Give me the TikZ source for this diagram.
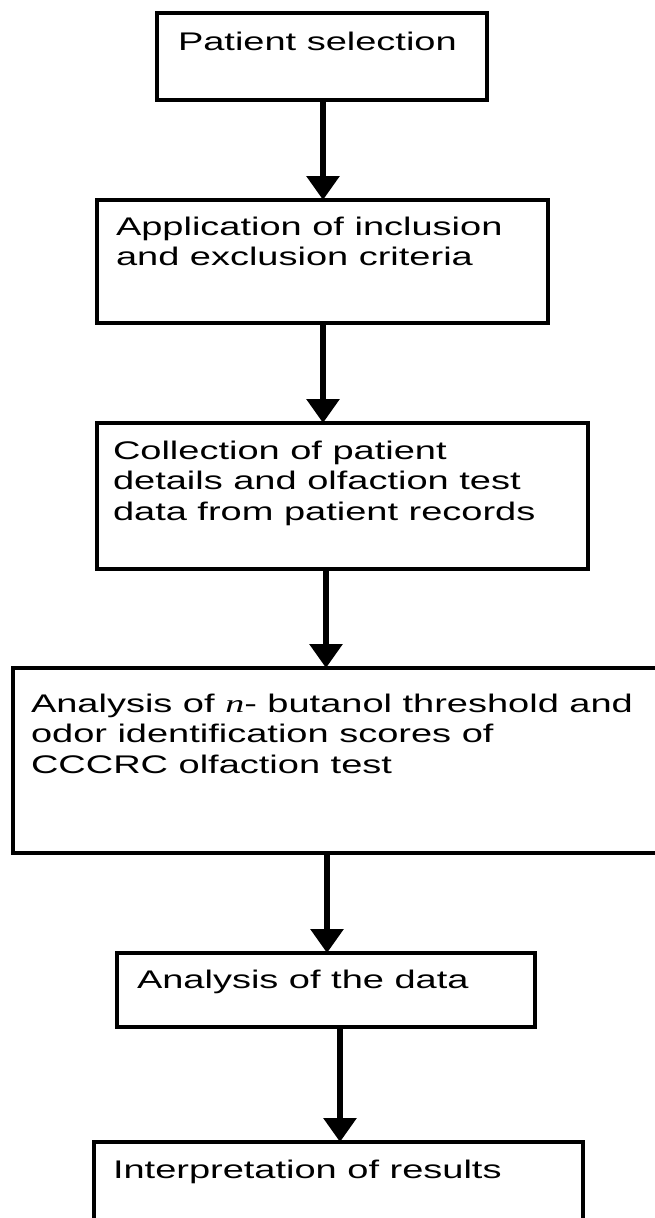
\documentclass[tikz,border=0pt]{standalone}
\usepackage{fontspec}
\setmainfont[FakeStretch=1.49]{Liberation Sans}
\newfontfamily\serifit[FakeStretch=1.49]{Liberation Serif}
\usetikzlibrary{arrows.meta}
\begin{document}
\begin{tikzpicture}[x=1pt,y=-1pt,
  stepbox/.style={draw=black, line width=3.5pt, inner sep=0pt, outer sep=0pt, anchor=north west, fill=none},
  txt/.style={inner sep=0pt, outer sep=0pt, anchor=base west, align=left, font=\fontsize{25.5}{30.5}\selectfont},
  arr/.style={line width=6pt, -{Triangle[width=32pt,length=24pt]}, shorten >=0pt}
]
\useasboundingbox[fill=white] (0,0) rectangle (654,1218);

\node[stepbox, minimum width=330pt, minimum height=87pt] (b1) at (157,13) {};
\node[stepbox, minimum width=451pt, minimum height=123pt] (b2) at (97,200) {};
\node[stepbox, minimum width=491pt, minimum height=146pt] (b3) at (97,423) {};
\node[stepbox, minimum width=646pt, minimum height=185pt] (b4) at (13,668) {};
\node[stepbox, minimum width=418pt, minimum height=74pt] (b5) at (117,953) {};
\node[stepbox, minimum width=489pt, minimum height=95pt] (b6) at (94,1142) {};

% base anchor of a multi-line node is the baseline of its last line
\node[txt] (t1) at ([shift={(21,37)}]b1.north west) {Patient selection};
\node[txt] (t2) at ([shift={(19,65.5)}]b2.north west) {Application of inclusion\\and exclusion criteria};
\node[txt] (t3) at ([shift={(16,97)}]b3.north west) {Collection of patient\\details and olfaction test\\data from patient records};
\node[txt] (t4) at ([shift={(18,105)}]b4.north west) {Analysis of {\serifit\itshape n}- butanol threshold and\\odor identification scores of\\CCCRC olfaction test};
\node[txt] (t5) at ([shift={(20,35)}]b5.north west) {Analysis of the data};
\node[txt] (t6) at ([shift={(19,36)}]b6.north west) {Interpretation of results};

\coordinate (x1) at (323,0);
\coordinate (x3) at (326,0);
\coordinate (x4) at (327,0);
\coordinate (x5) at (340,0);

\draw[arr] (b1.south -| x1) -- (b2.north -| x1);
\draw[arr] (b2.south -| x1) -- (b3.north -| x1);
\draw[arr] (b3.south -| x3) -- (b4.north -| x3);
\draw[arr] (b4.south -| x4) -- (b5.north -| x4);
\draw[arr] (b5.south -| x5) -- (b6.north -| x5);
\end{tikzpicture}
\end{document}
